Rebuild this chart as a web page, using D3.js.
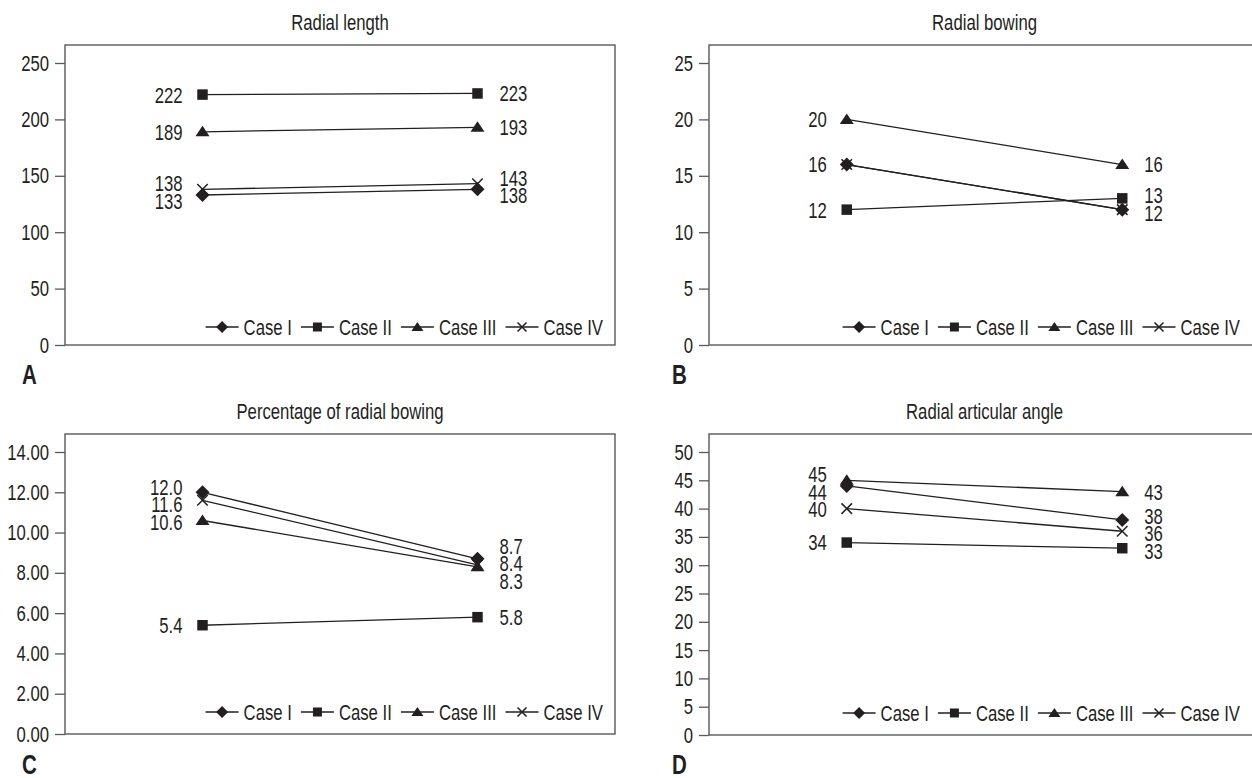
<!DOCTYPE html>
<html>
<head>
<meta charset="utf-8">
<script src="https://cdn.jsdelivr.net/npm/d3@7"></script>
<style>
  body { margin: 0; background: #fff; }
  svg { display: block; }
  text { font-family: "Liberation Sans", Arial, sans-serif; fill: #231f20; }
</style>
</head>
<body>
<svg id="chart" width="1252" height="778"></svg>
<script>
// x categories (two measurements per case, no axis labels in the figure)
const timepoints = ["first", "second"];
const cases = ["Case I", "Case II", "Case III", "Case IV"];
const titles = ["Radial length", "Radial bowing", "Percentage of radial bowing", "Radial articular angle"];
const letters = ["A", "B", "C", "D"];

// values per case: [first, second]
const lengthValues = [[133, 138], [222, 223], [189, 193], [138, 143]];
const bowingValues = [[16, 12], [12, 13], [20, 16], [16, 12]];
const percentValues = [[12.0, 8.7], [5.4, 5.8], [10.6, 8.3], [11.6, 8.4]];
const angleValues = [[44, 38], [34, 33], [45, 43], [40, 36]];

const lengthTicks = [0, 50, 100, 150, 200, 250];
const bowingTicks = [0, 5, 10, 15, 20, 25];
const percentTicks = [0, 2, 4, 6, 8, 10, 12, 14];
const angleTicks = [0, 5, 10, 15, 20, 25, 30, 35, 40, 45, 50];

const INK = "#231f20";
const FRAME = "#58595b";
const FS = 22;   // base font size
const SX = 0.76; // horizontal squeeze to mimic a condensed face

// layout of the four panels
const panels = [
  { data: lengthValues, ticks: lengthTicks, tickFmt: d3.format("d"), labFmt: d3.format("d"),
    x: 65, y: 45, w: 550, h: 300, legendDy: 18, letterX: 22, letterY: 384 },
  { data: bowingValues, ticks: bowingTicks, tickFmt: d3.format("d"), labFmt: d3.format("d"),
    x: 709, y: 45, w: 551, h: 300, legendDy: 18, letterX: 672, letterY: 384 },
  { data: percentValues, ticks: percentTicks, tickFmt: d3.format(".2f"), labFmt: d3.format(".1f"),
    x: 65, y: 434, w: 550, h: 300, legendDy: 22, letterX: 22, letterY: 774 },
  { data: angleValues, ticks: angleTicks, tickFmt: d3.format("d"), labFmt: d3.format("d"),
    x: 709, y: 434, w: 551, h: 301, legendDy: 22, letterX: 672, letterY: 774 }
];

// marker shapes, drawn around 0,0
const markers = {
  diamond: r => `M0,${-r}L${r},0L0,${r}L${-r},0Z`,
  square: r => `M${-r * 0.75},${-r * 0.75}h${r * 1.5}v${r * 1.5}h${-r * 1.5}Z`,
  triangle: r => `M0,${-r * 0.85}L${r},${r * 0.65}L${-r},${r * 0.65}Z`,
  cross: r => `M${-r * 0.75},${-r * 0.75}L${r * 0.75},${r * 0.75}M${r * 0.75},${-r * 0.75}L${-r * 0.75},${r * 0.75}`
};
const caseMarker = ["diamond", "square", "triangle", "cross"];

function drawMarker(g, kind, r) {
  const p = g.append("path").attr("d", markers[kind](r));
  if (kind === "cross") p.attr("fill", "none").attr("stroke", INK).attr("stroke-width", 1.5);
  else p.attr("fill", INK);
  return p;
}

// move x/y into a transform and squeeze horizontally
function narrow(sel) {
  sel.each(function () {
    const t = d3.select(this);
    const x = +t.attr("x") || 0, y = +t.attr("y") || 0;
    t.attr("x", 0).attr("y", 0)
      .attr("transform", `translate(${x},${y}) scale(${SX},1)`);
  });
  return sel;
}

// spread stacked labels so they don't overlap
function spreadLabels(items, gap) {
  items.sort((a, b) => a.want - b.want);
  let groups = items.map(d => ({ members: [d], want: d.want }));
  const place = g => {
    const n = g.members.length;
    g.top = g.want - (n - 1) * gap / 2;
    g.members.forEach((m, i) => m.y = g.top + i * gap);
  };
  groups.forEach(place);
  let merged = true;
  while (merged) {
    merged = false;
    for (let i = 1; i < groups.length; i++) {
      const a = groups[i - 1], b = groups[i];
      const aBottom = a.top + (a.members.length - 1) * gap;
      if (b.top - aBottom < gap) {
        const members = a.members.concat(b.members);
        const g = { members, want: d3.mean(members, m => m.want) };
        place(g);
        groups.splice(i - 1, 2, g);
        merged = true;
        break;
      }
    }
  }
  return items;
}

const svg = d3.select("#chart");

panels.forEach((p, pi) => {
  const g = svg.append("g").attr("transform", `translate(${p.x},${p.y})`);

  const x = d3.scalePoint().domain(timepoints).range([0, p.w]).padding(0.5);
  const y = d3.scaleLinear().domain([0, d3.max(p.ticks)]).range([p.h, 18]);

  // title
  g.append("text")
    .attr("x", p.w / 2).attr("y", -15)
    .attr("text-anchor", "middle")
    .attr("font-size", FS)
    .text(titles[pi])
    .call(narrow);

  // frame
  g.append("rect")
    .attr("width", p.w).attr("height", p.h)
    .attr("fill", "none").attr("stroke", FRAME).attr("stroke-width", 1.4);

  // y axis
  const ax = g.append("g")
    .call(d3.axisLeft(y).tickValues(p.ticks).tickSize(10).tickPadding(6).tickFormat(p.tickFmt));
  ax.attr("font-family", null);
  ax.select(".domain").remove();
  ax.selectAll(".tick line").attr("stroke", FRAME).attr("stroke-width", 1.3);
  ax.selectAll(".tick text")
    .attr("font-size", FS)
    .style("fill", INK)
    .call(narrow);

  // lines
  const line = d3.line().x((d, i) => x(timepoints[i])).y(d => y(d));
  g.append("g").selectAll("path")
    .data(p.data)
    .join("path")
    .attr("d", d => line(d))
    .attr("fill", "none")
    .attr("stroke", INK)
    .attr("stroke-width", 1.3);

  // markers
  p.data.forEach((vals, ci) => {
    vals.forEach((v, ti) => {
      const mg = g.append("g").attr("transform", `translate(${x(timepoints[ti])},${y(v)})`);
      drawMarker(mg, caseMarker[ci], 7);
    });
  });

  // value labels, one per distinct value at each timepoint
  timepoints.forEach((t, ti) => {
    const seen = new Map();
    p.data.forEach(vals => {
      const txt = p.labFmt(vals[ti]);
      if (!seen.has(txt)) seen.set(txt, { txt, want: y(vals[ti]) });
    });
    const items = spreadLabels(Array.from(seen.values()), 17.5);
    const left = ti === 0;
    g.append("g").selectAll("text")
      .data(items)
      .join("text")
      .attr("x", left ? x(t) - 20 : x(t) + 22)
      .attr("y", d => d.y)
      .attr("dy", "0.36em")
      .attr("text-anchor", left ? "end" : "start")
      .attr("font-size", FS)
      .text(d => d.txt)
      .call(narrow);
  });

  // legend, right aligned inside the frame
  const lg = g.append("g");
  let cx = 0;
  cases.forEach((c, ci) => {
    const item = lg.append("g").attr("transform", `translate(${cx},0)`);
    item.append("line").attr("x1", 0).attr("x2", 33)
      .attr("stroke", INK).attr("stroke-width", 1.3);
    const mg = item.append("g").attr("transform", "translate(16.5,0)");
    drawMarker(mg, caseMarker[ci], 6);
    const t = item.append("text").attr("x", 38).attr("dy", "0.36em")
      .attr("font-size", FS).text(c);
    const tw = t.node().getComputedTextLength() * SX;
    t.call(narrow);
    cx += 38 + tw + 9;
  });
  const legendW = cx - 9;
  const rightEdge = Math.min(p.w, 1252 - p.x) - 12;
  lg.attr("transform", `translate(${rightEdge - legendW},${p.h - p.legendDy})`);

  // panel letter
  svg.append("text")
    .attr("x", p.letterX).attr("y", p.letterY)
    .attr("font-size", 27).attr("font-weight", "bold")
    .text(letters[pi])
    .call(narrow);
});
</script>
</body>
</html>
